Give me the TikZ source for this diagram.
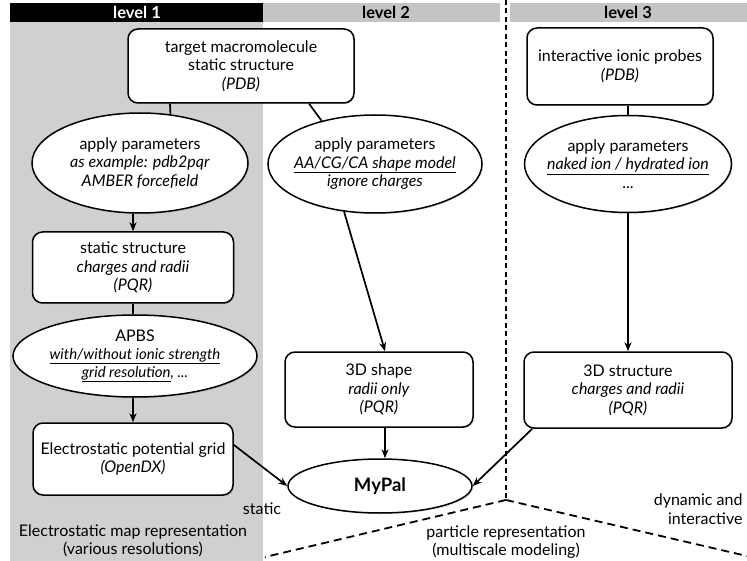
\documentclass[tikz,border=0pt]{standalone}
\usepackage{fontspec}
\setmainfont{Lato}
\usetikzlibrary{shapes.geometric,arrows.meta,shadows,calc}
\definecolor{bggray}{RGB}{208,208,208}
\definecolor{hdgray}{RGB}{196,196,196}
\begin{document}
\begin{tikzpicture}[x=1pt,y=-1pt,
  txt/.style={font=\fontsize{16}{18.5}\selectfont},
  box/.style={txt,draw,line width=1.5pt,rounded corners=10pt,fill=white,align=center,inner sep=0pt,
    drop shadow={opacity=0.25,shadow xshift=1.2pt,shadow yshift=-1.2pt}},
  ell/.style={txt,draw,ellipse,line width=1.5pt,fill=white,align=center,inner xsep=-12pt,inner ysep=-6pt,
    drop shadow={opacity=0.25,shadow xshift=1.2pt,shadow yshift=-1.2pt}},
  arr/.style={-{Stealth[length=9pt,width=7pt]},line width=1.7pt},
  lnk/.style={line width=1.7pt},
  hdr/.style={font=\bfseries\fontsize{16.5}{18}\selectfont},
  sep/.style={line width=1.8pt,dash pattern=on 5pt off 3.5pt},
  sepd/.style={line width=1.8pt,dash pattern=on 8pt off 5pt}]
\useasboundingbox (0,0) rectangle (747,561);
% backgrounds
\fill[bggray] (10,22) rectangle (263,561);
\fill[black] (10,3) rectangle (263,22);
\fill[hdgray] (263,3) rectangle (500,22);
\fill[hdgray] (510,3) rectangle (747,22);
\node[hdr,text=white] (h1) at (137,12.5) {level 1};
\node[hdr] (h2) at (386,12.5) {level 2};
\node[hdr] (h3) at (628,12.5) {level 3};
% separators
\coordinate (c0) at (506,0);
\coordinate (c1) at (506,500);
\coordinate (c2) at (265,557);
\coordinate (c3) at (747,556);
\draw[sep] (c0) -- (c1);
\draw[sepd] (c1) -- (c2);
\draw[sepd] (c1) -- (c3);
% nodes
\node[box,minimum width=226pt,minimum height=74pt] (tgt) at (241,66)
  {target macromolecule\\static structure\\\textit{(PDB)}};
\node[ell,minimum width=216pt,minimum height=100pt] (e1) at (140,163)
  {apply parameters\\\textit{as example: pdb2pqr}\\\textit{AMBER forcefield}};
\node[ell,minimum width=214pt,minimum height=98pt] (e2) at (375,164)
  {apply parameters\\\textit{\underline{AA/CG/CA shape model}}\\\textit{ignore charges}};
\node[box,minimum width=186pt,minimum height=77pt] (pr) at (620,66.5)
  {interactive ionic probes\\\textit{(PDB)}};
\node[ell,minimum width=207pt,minimum height=97pt] (e3) at (628,164)
  {apply parameters\\\textit{\underline{naked ion / hydrated ion}}\\...};
\node[box,minimum width=201pt,minimum height=71pt] (ss) at (133,267.5)
  {static structure\\\textit{charges and radii}\\\textit{(PQR)}};
\node[ell,minimum width=244pt,minimum height=82pt,font=\fontsize{15}{18}\selectfont] (apbs) at (135,356)
  {{\fontsize{16}{18}\selectfont APBS}\\\textit{\underline{with/without ionic strength}}\\\textit{\underline{grid resolution}, ...}};
\node[box,minimum width=200pt,minimum height=72pt] (eg) at (133,459)
  {Electrostatic potential grid\\\textit{(OpenDX)}};
\node[box,minimum width=188pt,minimum height=75pt] (sh) at (379,389.5)
  {3D shape\\\textit{radii only}\\\textit{(PQR)}};
\node[box,minimum width=208pt,minimum height=76pt] (st) at (628,390)
  {3D structure\\\textit{charges and radii}\\\textit{(PQR)}};
\node[ell,minimum width=184pt,minimum height=54pt,font=\bfseries\fontsize{18.5}{20}\selectfont] (mp) at (380,486) {MyPal};
% labels
\node[txt] (lstatic) at (262,509) {static};
\node[txt,align=center] (lmap) at (133,541) {Electrostatic map representation\\(various resolutions)};
\node[txt,align=center] (lpart) at (506,542) {particle representation\\(multiscale modeling)};
\node[txt,align=right,anchor=east] (ldyn) at (746,509) {dynamic and\\interactive};
% connectors
\draw[lnk] (tgt.208) -- (e1.58);
\draw[lnk] (tgt.331) -- (e2.141);
\draw[lnk] (pr.south -| e3.north) -- (e3.north);
\draw[arr] (e1.south -| ss.north) -- (ss.north);
\draw[lnk] (ss.south) -- (ss.south |- apbs.north);
\draw[arr] (apbs.south -| eg.north) -- (eg.north);
\draw[arr] (eg.8) -- (mp.west);
\coordinate (shx) at ($(sh.south)+(6,0)$);
\draw[arr] (e2.237) -- (sh.81);
\draw[arr] (shx) -- (shx |- mp.north);
\draw[arr] (e3.south) -- (st.north);
\draw[arr] ($(st.south west)+(9,0)$) -- (mp.east);
\end{tikzpicture}
\end{document}
